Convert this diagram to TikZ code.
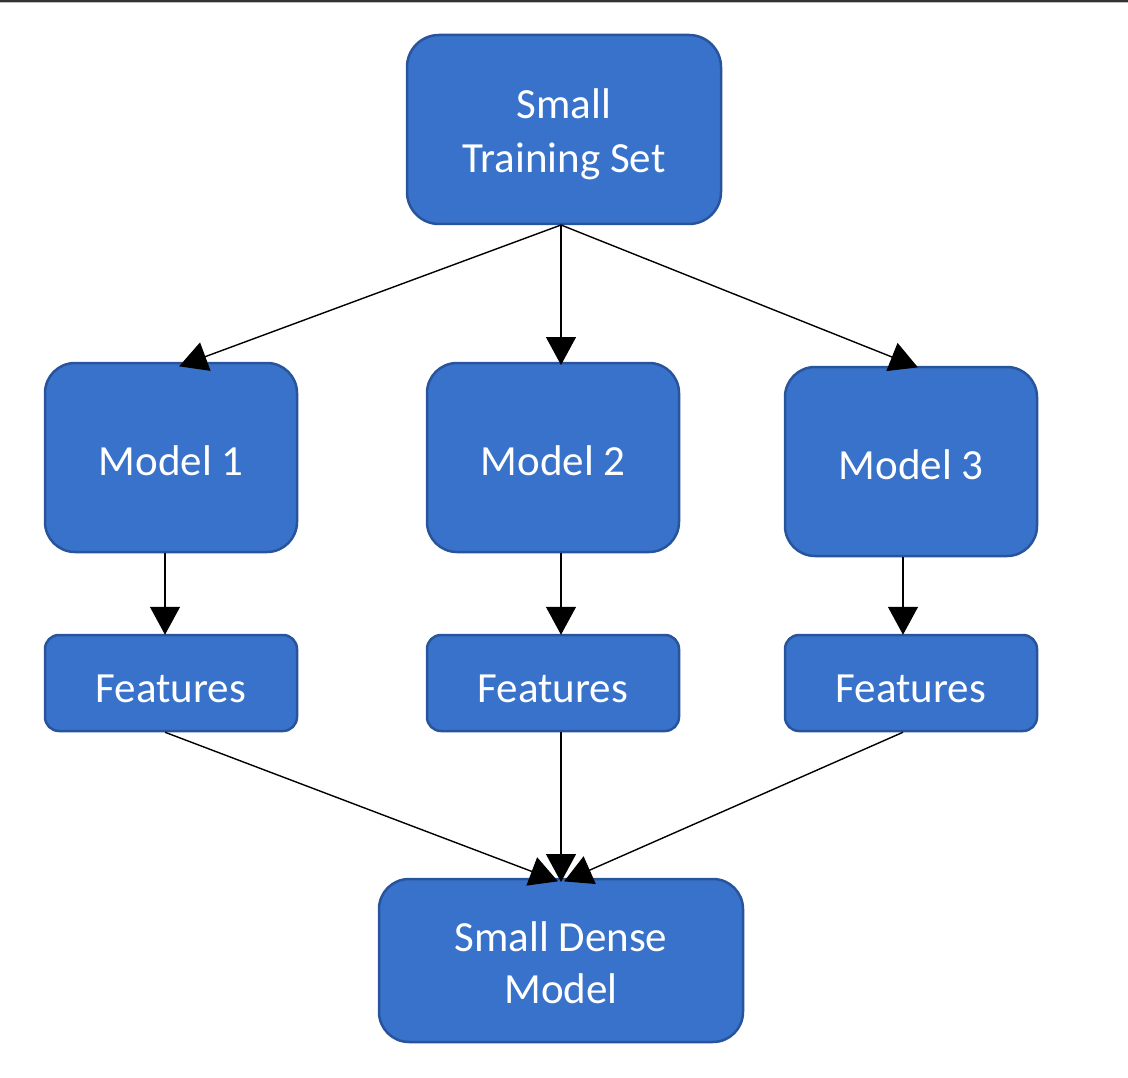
\documentclass[tikz,border=0pt]{standalone}
\usepackage{fontspec}
\setmainfont{Carlito}
\usetikzlibrary{arrows.meta}
\definecolor{boxfill}{RGB}{56,114,202}
\definecolor{boxline}{RGB}{40,84,156}
\tikzset{
  box/.style={draw=boxline, line width=2.5pt, fill=boxfill, rounded corners=#1, text=white,
    font=\fontsize{43}{52}\selectfont, align=center, inner sep=0pt},
  box/.default=30pt,
  oneline/.style={text height=36pt, text depth=0pt},
  conn/.style={line width=1.4pt, -{Triangle[length=28pt,width=30pt]}, shorten >=-1pt}
}
\begin{document}
\begin{tikzpicture}[x=1pt,y=-1pt]
\useasboundingbox (0,0) rectangle (1128,1078);
\fill[white] (0,0) rectangle (1128,1078);
\fill[black!80] (0,0) rectangle (1128,2.5);
\fill[black!25] (0,2.5) rectangle (1128,3.5);
\node[box=32pt, minimum width=314pt, minimum height=189pt, font=\fontsize{43}{54}\selectfont] (train) at (564,129.5) {\rule{0pt}{39pt}Small\\Training Set};
\node[box, oneline, minimum width=252pt, minimum height=189pt] (m1) at (171,457.5) {Model 1};
\node[box, oneline, minimum width=252pt, minimum height=189pt] (m2) at (553,457.5) {Model 2};
\node[box, oneline, minimum width=252pt, minimum height=189pt] (m3) at (911,461.5) {Model 3};
\node[box=14pt, oneline, text height=38pt, minimum width=252pt, minimum height=96pt] (f1) at (171,683) {Features};
\node[box=14pt, oneline, text height=38pt, minimum width=252pt, minimum height=96pt] (f2) at (553,683) {Features};
\node[box=14pt, oneline, text height=38pt, minimum width=252pt, minimum height=96pt] (f3) at (911,683) {Features};
\node[box=30pt, minimum width=364pt, minimum height=163pt] (dense) at (561,960.5) {\rule{0pt}{34pt}Small Dense\\Model};
\coordinate (src) at (561,225);
\coordinate (t1) at (180,366);
\coordinate (t2) at (561,364);
\coordinate (t3) at (917,367);
\draw[conn] (src) -- (t1);
\draw[conn] (src) -- (t2);
\draw[conn] (src) -- (t3);
\draw[conn] (m1.south -| 165,0) -- (f1.north -| 165,0);
\draw[conn] (m2.south -| 561,0) -- (f2.north -| 561,0);
\draw[conn] (m3.south -| 903,0) -- (f3.north -| 903,0);
\coordinate (d1) at (557,881);
\coordinate (d2) at (561,881);
\coordinate (d3) at (565,881);
\draw[conn] (f1.south -| 165,0) -- (d1);
\draw[conn] (f2.south -| 561,0) -- (d2);
\draw[conn] (f3.south -| 903,0) -- (d3);
\end{tikzpicture}
\end{document}
